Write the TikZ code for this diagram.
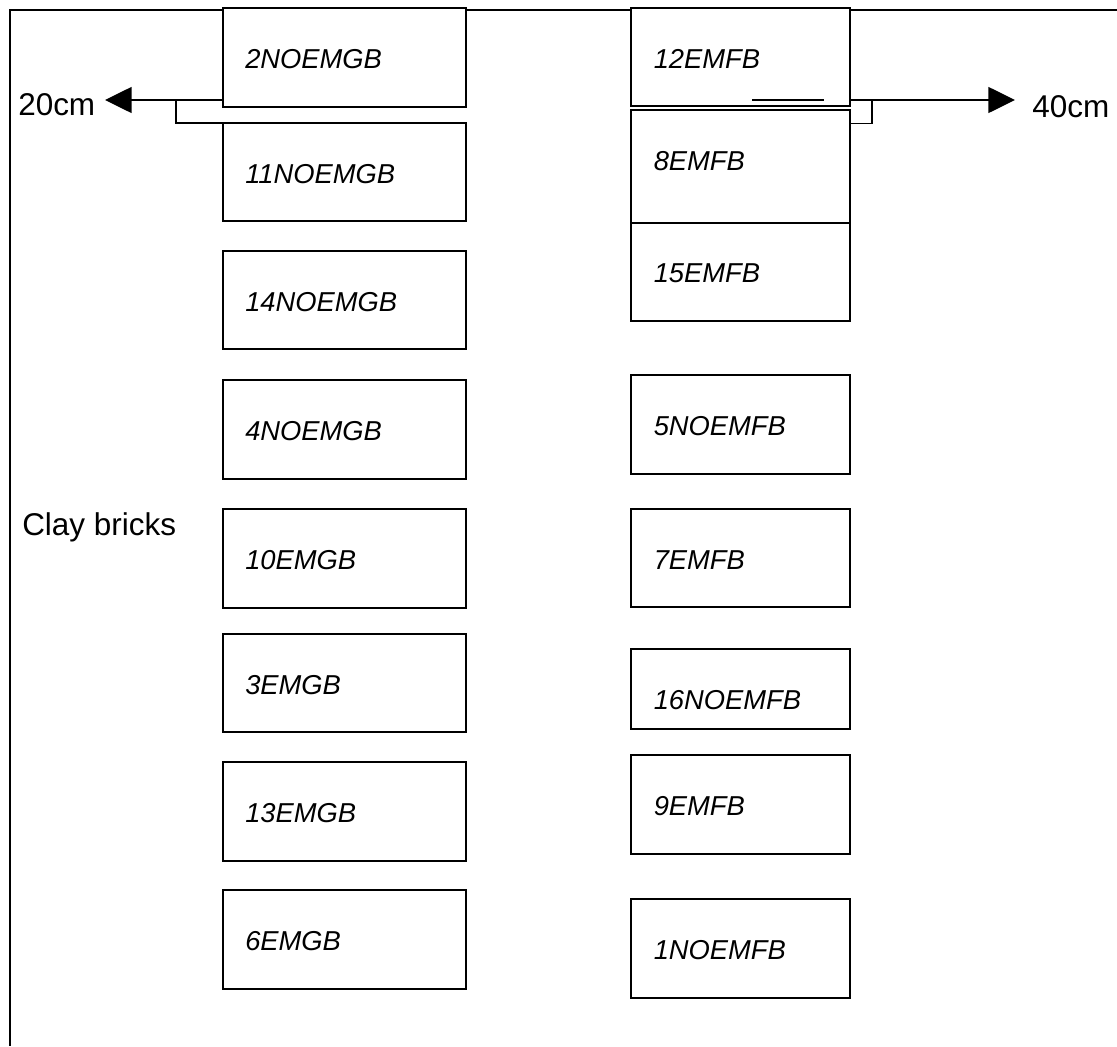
\documentclass[tikz,border=0pt]{standalone}
\usepackage{fontspec}
\setmainfont{Liberation Sans}
\newfontfamily\labfont{Liberation Sans}
\usetikzlibrary{arrows.meta}

\tikzset{
  brick/.style={draw, fill=white, line width=1.5pt, inner sep=0pt, outer sep=0pt, rectangle},
  lab/.style={inner sep=0pt, font=\labfont\itshape\fontsize{20.5}{24}\selectfont},
  plain/.style={inner sep=0pt, font=\fontsize{23.6}{28}\selectfont},
  frame/.style={line width=1.5pt},
  link/.style={line width=1.1pt},
  dimarrow/.style={link, -{Triangle[length=20pt, width=19.5pt]}}
}

% a brick: name, left, top, right, bottom, label
\newcommand\brickbox[6]{%
  \pgfmathsetmacro\bw{(#4-#2)*0.75}%
  \pgfmathsetmacro\bh{(#5-#3)*0.75}%
  \node[brick, minimum width=\bw pt, minimum height=\bh pt, anchor=north west] (#1) at (#2,#3) {};
  \node[lab, anchor=base west] (#1t) at (#2+22.5,#3+60) {#6};
}

\begin{document}
\begin{tikzpicture}[x=0.75pt, y=-0.75pt]
\useasboundingbox (0,0) rectangle (1117,1046);

% outer frame (top and left sides)
\draw[frame] (1117,10) -- (10,10) -- (10,1046);

% left column of bricks
\brickbox{b2}{222.5}{8}{466}{107}{2NOEMGB}
\brickbox{b11}{222.5}{123}{466}{221}{11NOEMGB}
\brickbox{b14}{222.5}{251}{466}{349}{14NOEMGB}
\brickbox{b4}{222.5}{380}{466}{478.5}{4NOEMGB}
\brickbox{b10}{222.5}{509}{466}{607.5}{10EMGB}
\brickbox{b3}{222.5}{634}{466}{732}{3EMGB}
\brickbox{b13}{222.5}{762}{466}{861}{13EMGB}
\brickbox{b6}{222.5}{890}{466}{989}{6EMGB}

% right column of bricks
\brickbox{b12}{631}{8}{850}{106}{12EMFB}
\brickbox{b8}{631}{110}{850}{222.7}{8EMFB}
\brickbox{b15}{631}{222.7}{850}{321}{15EMFB}
\brickbox{b5}{631}{375}{850}{474}{5NOEMFB}
\brickbox{b7}{631}{509}{850}{607}{7EMFB}
\brickbox{b16}{631}{649}{850}{729}{16NOEMFB}
\brickbox{b9}{631}{755}{850}{854}{9EMFB}
\brickbox{b1}{631}{899}{850}{998}{1NOEMFB}

% spacing arrows
\coordinate (tipL) at (105,100);
\coordinate (kneeL) at (176,100);
\coordinate (tipR) at (1015,100);
\coordinate (kneeR) at (872,100);

\draw[dimarrow] ([shift={(0,-7)}]b2.south west) -- (tipL);
\draw[link] (kneeL) |- (b11.north west);
\draw[dimarrow] ([shift={(0,-6)}]b12.south east) -- (tipR);
\draw[link] (kneeR) |- ([shift={(0,13.3)}]b8.north east);
\draw[link] (752,100) -- (824,100);

\node[plain, anchor=base west] (d20) at (18,115.7) {20cm};
\node[plain, anchor=base west] (d40) at (1032,117) {40cm};
\node[plain, anchor=base west] (clay) at (22,535) {Clay bricks};
\end{tikzpicture}
\end{document}
